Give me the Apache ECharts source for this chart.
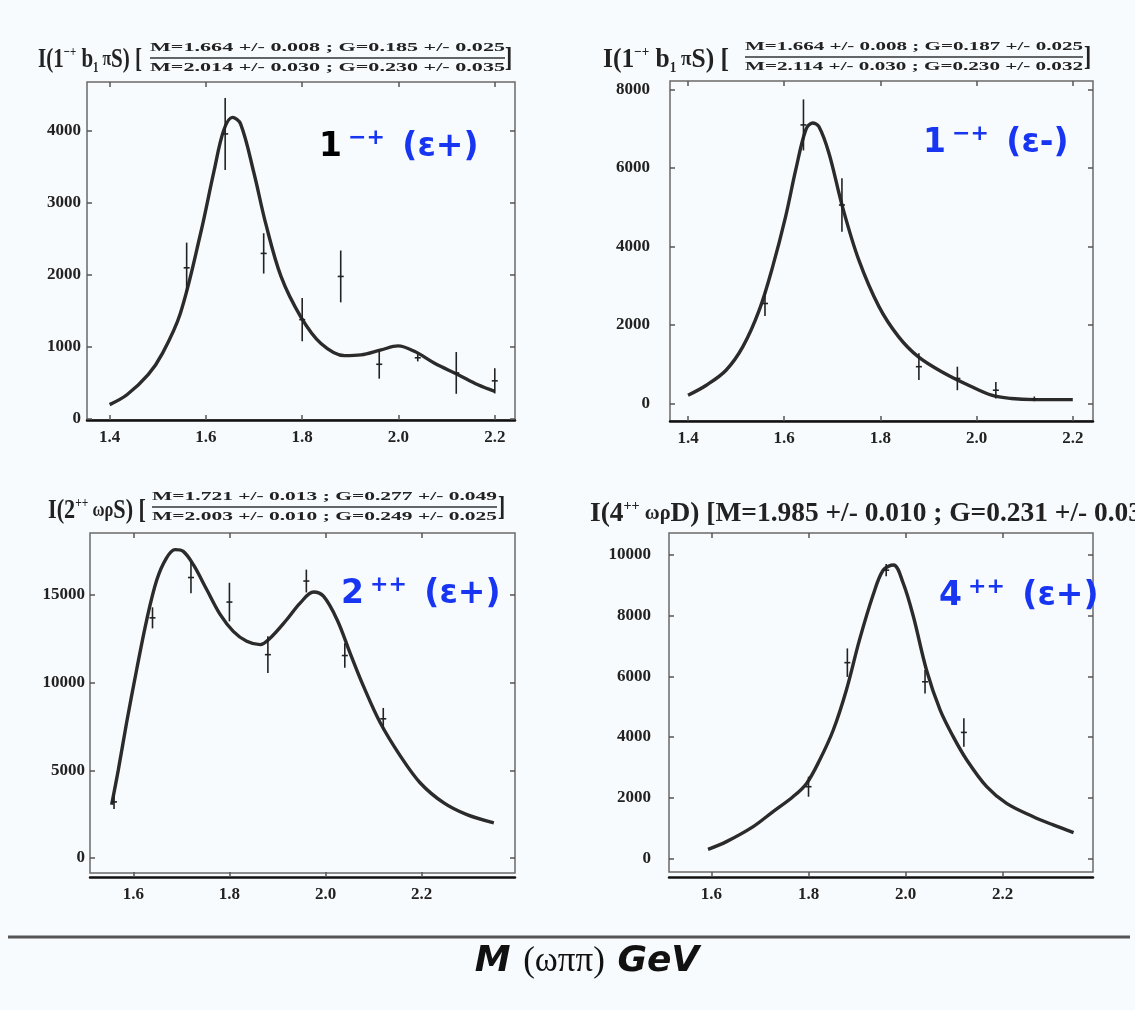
<!DOCTYPE html>
<html><head><meta charset="utf-8">
<script src="https://cdn.jsdelivr.net/npm/echarts@6/dist/echarts.min.js"></script>
<style>html,body{margin:0;padding:0;background:#f8fbfd}#c{width:1135px;height:1010px}</style>
</head><body><div id="c"></div>
<script>
// ---- Panel 1 : I(1-+ b1 pi S), 1-+ (eps+) ----
const fitX1 = [1.40,1.436,1.48,1.51,1.547,1.589,1.617,1.637,1.655,1.672,1.70,1.724,1.756,1.797,1.839,1.888,1.922,1.964,1.999,2.033,2.075,2.124,2.165,2.20];
const fitY1 = [200,337,615,915,1470,2580,3450,4010,4190,4100,3410,2720,1980,1420,1050,880,890,960,1015,940,775,615,475,385];
const ptX1 = [1.56,1.64,1.72,1.80,1.88,1.96,2.04,2.12,2.20];
const ptY1 = [2100,3960,2300,1380,1980,760,850,640,530];
const ptE1 = [350,500,280,300,360,200,50,290,175];
const xTicks1 = [1.4,1.6,1.8,2.0,2.2];
const yTicks1 = [0,1000,2000,3000,4000];

// ---- Panel 2 : I(1-+ b1 pi S), 1-+ (eps-) ----
const fitX2 = [1.40,1.438,1.479,1.514,1.548,1.576,1.603,1.624,1.645,1.659,1.672,1.693,1.721,1.755,1.797,1.838,1.879,1.934,1.983,2.031,2.072,2.12,2.20];
const fitY2 = [213,468,850,1450,2380,3490,4770,5960,6980,7150,7060,6380,5020,3660,2470,1700,1190,766,468,213,128,100,100];
const ptX2 = [1.56,1.64,1.72,1.88,1.96,2.04,2.12];
const ptY2 = [2550,7100,5060,940,640,340,120];
const ptE2 = [320,650,680,340,300,210,60];
const xTicks2 = [1.4,1.6,1.8,2.0,2.2];
const yTicks2 = [0,2000,4000,6000,8000];

// ---- Panel 3 : I(2++ omega rho S), 2++ (eps+) ----
const fitX3 = [1.555,1.569,1.586,1.607,1.628,1.649,1.669,1.687,1.704,1.725,1.753,1.781,1.808,1.836,1.864,1.885,1.919,1.947,1.975,1.996,2.024,2.051,2.079,2.114,2.156,2.197,2.246,2.294,2.35];
const fitY3 = [3040,5040,7700,10740,13590,15870,17110,17590,17490,16730,15300,13880,12930,12360,12170,12550,13590,14540,15170,14920,13590,11690,9790,7700,5800,4280,3140,2470,2000];
const ptX3 = [1.56,1.64,1.72,1.80,1.88,1.96,2.04,2.12];
const ptY3 = [3200,13700,16000,14600,11600,15800,11550,7940];
const ptE3 = [400,600,900,1100,1050,650,700,620];
const xTicks3 = [1.6,1.8,2.0,2.2];
const yTicks3 = [0,5000,10000,15000];

// ---- Panel 4 : I(4++ omega rho D), 4++ (eps+) ----
const fitX4 = [1.593,1.631,1.686,1.727,1.768,1.796,1.823,1.851,1.878,1.905,1.933,1.954,1.975,1.995,2.016,2.043,2.071,2.098,2.126,2.167,2.208,2.263,2.304,2.346];
const fitY4 = [297,550,1044,1540,2030,2470,3240,4230,5550,7200,8680,9505,9670,9070,7970,6210,4890,4010,3240,2360,1810,1370,1100,846];
const ptX4 = [1.80,1.88,1.96,2.04,2.12];
const ptY4 = [2360,6450,9500,5820,4150];
const ptE4 = [330,470,200,390,470];
const xTicks4 = [1.6,1.8,2.0,2.2];
const yTicks4 = [0,2000,4000,6000,8000,10000];

// ---- Texts ----
const fracTop1 = 'M=1.664 +/- 0.008 ; G=0.185 +/- 0.025';
const fracBot1 = 'M=2.014 +/- 0.030 ; G=0.230 +/- 0.035';
const fracTop2 = 'M=1.664 +/- 0.008 ; G=0.187 +/- 0.025';
const fracBot2 = 'M=2.114 +/- 0.030 ; G=0.230 +/- 0.032';
const fracTop3 = 'M=1.721 +/- 0.013 ; G=0.277 +/- 0.049';
const fracBot3 = 'M=2.003 +/- 0.010 ; G=0.249 +/- 0.025';
const head1 = [['I(1', 'm'], ['−+', 's'], [' b', 'm'], ['1', 'd'], [' π', 'g'], ['S) [', 'm']];
const head2 = [['I(1', 'm'], ['−+', 's'], [' b', 'm'], ['1', 'd'], [' π', 'g'], ['S) [', 'm']];
const head3 = [['I(2', 'm'], ['++', 's'], [' ωρ', 'g'], ['S) [', 'm']];
const head4 = [['I(4', 'm'], ['++', 's'], [' ωρ', 'g'], ['D) [M=1.985 +/- 0.010 ; G=0.231 +/- 0.03', 'm']];
const tag1 = [['1', 'k'], ['−+', 's'], [' (ε+)', 'n']];
const tag2 = [['1', 'n'], ['−+', 's'], [' (ε-)', 'n']];
const tag3 = [['2', 'n'], ['++', 's'], [' (ε+)', 'n']];
const tag4 = [['4', 'n'], ['++', 's'], [' (ε+)', 'n']];
const xTitle = [['M ', 'a'], ['(ωππ)', 'b'], [' GeV', 'a']];

const SERIF = '"Liberation Serif", "DejaVu Serif", serif';
const SANS = '"DejaVu Sans", "Liberation Sans", sans-serif';
const BLUE = '#1836f2';

const chart = echarts.init(document.getElementById('c'), null, {renderer: 'canvas', width: 1135, height: 1010});

const panels = [
  {grid: {left: 87, top: 82, width: 428, height: 338}, xMin: 1.353, xMax: 2.242, yMin: -14, yMax: 4681,
   xTicks: xTicks1, yTicks: yTicks1, yMargin: 6, offset: 0, fx: fitX1, fy: fitY1, px: ptX1, py: ptY1, pe: ptE1},
  {grid: {left: 670, top: 81, width: 423, height: 340}, xMin: 1.3625, xMax: 2.242, yMin: -444, yMax: 8219,
   xTicks: xTicks2, yTicks: yTicks2, yMargin: 20, offset: 0, fx: fitX2, fy: fitY2, px: ptX2, py: ptY2, pe: ptE2},
  {grid: {left: 90, top: 533, width: 425, height: 340}, xMin: 1.51, xMax: 2.394, yMin: -856, yMax: 18540,
   xTicks: xTicks3, yTicks: yTicks3, yMargin: 5, offset: 4, fx: fitX3, fy: fitY3, px: ptX3, py: ptY3, pe: ptE3},
  {grid: {left: 669, top: 533, width: 424, height: 339}, xMin: 1.5126, xMax: 2.386, yMin: -452, yMax: 10725,
   xTicks: xTicks4, yTicks: yTicks4, yMargin: 18, offset: 5, fx: fitX4, fy: fitY4, px: ptX4, py: ptY4, pe: ptE4}
];

const grids = [], xAxes = [], yAxes = [], series = [];
const labelFont = {fontFamily: SERIF, fontWeight: 'bold', fontSize: 17, color: '#222'};
const tickStyle = {color: '#555', width: 1.5};

panels.forEach((p, i) => {
  grids.push(Object.assign({show: true, borderColor: '#6a6a6a', borderWidth: 1.5, backgroundColor: 'transparent'}, p.grid));
  xAxes.push({
    type: 'value', gridIndex: i, min: p.xMin, max: p.xMax, position: 'bottom', offset: p.offset,
    axisLine: {show: true, onZero: false, lineStyle: {color: '#111', width: 2.5}},
    axisTick: {show: true, inside: true, length: 5, customValues: p.xTicks, lineStyle: tickStyle},
    axisLabel: Object.assign({margin: 9, customValues: p.xTicks, formatter: v => v.toFixed(1)}, labelFont),
    splitLine: {show: false}
  });
  xAxes.push({
    type: 'value', gridIndex: i, min: p.xMin, max: p.xMax, position: 'top',
    axisLine: {show: false, onZero: false},
    axisTick: {show: true, inside: true, length: 5, customValues: p.xTicks, lineStyle: tickStyle},
    axisLabel: {show: false}, splitLine: {show: false}
  });
  yAxes.push({
    type: 'value', gridIndex: i, min: p.yMin, max: p.yMax, position: 'left',
    axisLine: {show: false, onZero: false},
    axisTick: {show: true, inside: true, length: 5, customValues: p.yTicks, lineStyle: tickStyle},
    axisLabel: Object.assign({margin: p.yMargin, customValues: p.yTicks, formatter: v => String(v)}, labelFont),
    splitLine: {show: false}
  });
  yAxes.push({
    type: 'value', gridIndex: i, min: p.yMin, max: p.yMax, position: 'right',
    axisLine: {show: false, onZero: false},
    axisTick: {show: true, inside: true, length: 5, customValues: p.yTicks, lineStyle: tickStyle},
    axisLabel: {show: false}, splitLine: {show: false}
  });
  series.push({
    type: 'line', xAxisIndex: 2 * i, yAxisIndex: 2 * i, smooth: 0.35, showSymbol: false, silent: true,
    lineStyle: {color: '#2b2b2b', width: 3.4}, z: 3,
    data: p.fx.map((x, k) => [x, p.fy[k]])
  });
  series.push({
    type: 'custom', xAxisIndex: 2 * i, yAxisIndex: 2 * i, silent: true, z: 4,
    encode: {x: 0, y: 1},
    data: p.px.map((x, k) => [x, p.py[k], p.pe[k]]),
    renderItem: function (params, api) {
      const x = api.value(0), y = api.value(1), e = api.value(2);
      const t = api.coord([x, y + e]), b = api.coord([x, y - e]), c = api.coord([x, y]);
      return {type: 'group', children: [
        {type: 'line', shape: {x1: t[0], y1: t[1], x2: b[0], y2: b[1]}, style: {stroke: '#222', lineWidth: 1.6}},
        {type: 'line', shape: {x1: c[0] - 3, y1: c[1], x2: c[0] + 3, y2: c[1]}, style: {stroke: '#222', lineWidth: 1.6}}
      ]};
    }
  });
});

// measuring helper (used to stretch/condense text to the widths seen in the reference)
const mctx = document.createElement('canvas').getContext('2d');
function textW(str, font) { mctx.font = font; return mctx.measureText(str).width; }

const FRAC_FS = 13;
function fraction(top, bot, x0, x1, yTop, yRule, yBot) {
  const f = 'bold ' + FRAC_FS + 'px "Liberation Serif"';
  const st = {fontFamily: SERIF, fontWeight: 'bold', fontSize: FRAC_FS, fill: '#222', verticalAlign: 'middle', align: 'left'};
  return [
    {type: 'text', x: x0, y: yTop, scaleX: (x1 - x0) / textW(top, f), scaleY: 0.95, style: Object.assign({text: top}, st)},
    {type: 'text', x: x0, y: yBot, scaleX: (x1 - x0) / textW(bot, f), scaleY: 0.95, style: Object.assign({text: bot}, st)},
    {type: 'line', shape: {x1: x0, y1: yRule, x2: x1, y2: yRule}, style: {stroke: '#333', lineWidth: 1.3}}
  ];
}
function bracket(x, y) {
  return {type: 'text', x: x, y: y, scaleX: 0.8, style: {text: ']', fontFamily: SERIF, fontWeight: 'bold', fontSize: 27, fill: '#222', verticalAlign: 'middle'}};
}

const headSizes = {m: 27, s: 14, d: 14, g: 20};
const headRich = {
  m: {fontFamily: SERIF, fontWeight: 'bold', fontSize: 27, fill: '#222', lineHeight: 30},
  s: {fontFamily: SERIF, fontWeight: 'bold', fontSize: 14, fill: '#222', lineHeight: 14, verticalAlign: 'top'},
  d: {fontFamily: SERIF, fontWeight: 'bold', fontSize: 14, fill: '#222', lineHeight: 14, verticalAlign: 'bottom'},
  g: {fontFamily: SERIF, fontWeight: 'bold', fontSize: 20, fill: '#222', lineHeight: 30}
};
function richText(parts) { return parts.map(p => '{' + p[1] + '|' + p[0] + '}').join(''); }
function head(parts, x, y, targetW) {
  const w = parts.reduce((s, p) => s + textW(p[0], 'bold ' + headSizes[p[1]] + 'px "Liberation Serif"'), 0);
  return {type: 'text', x: x, y: y, scaleX: targetW / w, style: {text: richText(parts), rich: headRich, verticalAlign: 'middle', align: 'left'}};
}
const labRich = {
  k: {fontFamily: SANS, fontWeight: 'bold', fontSize: 33, fill: '#000', lineHeight: 40},
  n: {fontFamily: SANS, fontWeight: 'bold', fontSize: 33, fill: BLUE, lineHeight: 40},
  s: {fontFamily: SANS, fontWeight: 'bold', fontSize: 22, fill: BLUE, lineHeight: 20, verticalAlign: 'top', padding: [0, 6, 0, 6]}
};
function tag(parts, x, y) {
  return {type: 'text', x: x, y: y, style: {text: richText(parts), rich: labRich, verticalAlign: 'middle', align: 'left'}};
}

const graphics = [].concat(
  [head(head1, 38, 60, 104)], fraction(fracTop1, fracBot1, 150, 505, 48, 58, 68), [bracket(505, 59)],
  [head(head2, 603, 60, 126)], fraction(fracTop2, fracBot2, 745, 1083, 47, 57, 67), [bracket(1084, 58)],
  [head(head3, 48, 511, 98)], fraction(fracTop3, fracBot3, 152, 497, 497, 507, 517), [bracket(498, 508)],
  [head(head4, 590, 514, 552)],
  [tag(tag1, 319, 147), tag(tag2, 923, 143), tag(tag3, 341, 594), tag(tag4, 939, 596)],
  [{type: 'line', shape: {x1: 8, y1: 937, x2: 1130, y2: 937}, style: {stroke: '#555', lineWidth: 3}},
   {type: 'text', x: 587, y: 962, style: {text: richText(xTitle), align: 'center', verticalAlign: 'middle',
     rich: {a: {fontFamily: SANS, fontWeight: 'bold', fontStyle: 'italic', fontSize: 36, fill: '#111'},
            b: {fontFamily: SERIF, fontSize: 35, fill: '#111'}}}}]
);

chart.setOption({
  backgroundColor: '#f8fbfd',
  animation: false,
  grid: grids, xAxis: xAxes, yAxis: yAxes, series: series,
  graphic: graphics
});
</script></body></html>
